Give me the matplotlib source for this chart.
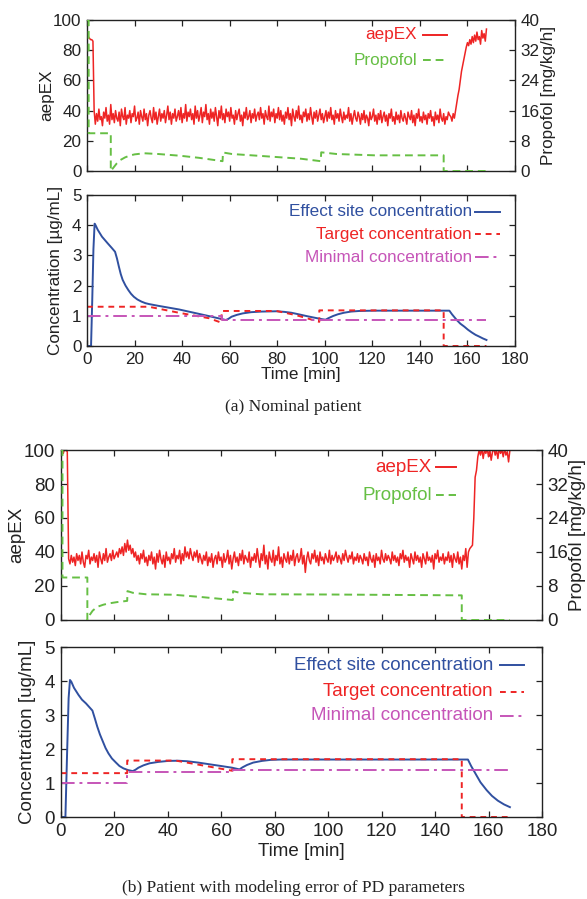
import numpy as np
import matplotlib
matplotlib.use('Agg')
import matplotlib.pyplot as plt

W, H = 587, 899
RED = '#ee2424'
GREEN = '#66bf44'
BLUE = '#3050a0'
MAG = '#c655b8'
INK = '#222222'

plt.rcParams['font.family'] = ['Liberation Sans', 'DejaVu Sans']

# ---------------- data: (a) nominal patient ----------------
t_aep = np.arange(0, 168.5, 0.5)  # sampling times [min]

aep_a = [92, 89, 88, 87, 87, 86,
    40, 31, 38, 33, 41, 34, 36, 30, 39, 35, 42, 33, 37, 31, 44, 34, 38, 32, 40, 35,
    33, 39, 30, 41, 36, 34, 42, 31, 37, 35, 40, 32, 38, 36, 43, 33, 35, 39, 31, 40,
    36, 33, 41, 34, 38, 30, 37, 40, 35, 32, 42, 34, 39, 31, 36, 41, 33, 38, 35, 40,
    32, 37, 43, 34, 39, 31, 38, 35, 41, 33, 36, 40, 34, 42, 32, 38, 35, 44, 33, 39,
    36, 41, 34, 38, 31, 43, 35, 40, 33, 37, 42, 32, 39, 36, 44, 34, 38, 31, 41, 35,
    39, 33, 42, 36, 30, 40, 35, 43, 34, 38, 32, 41, 36, 39, 33, 42, 35, 37, 31, 40,
    34, 38, 41, 33, 37, 30, 39, 35, 42, 34, 36, 40, 32, 38, 35, 41, 33, 37, 39, 34,
    42, 35, 38, 31, 40, 36, 34, 43, 33, 39, 36, 41, 32, 38, 35, 42, 34, 40, 33, 37,
    31, 39, 35, 42, 34, 38, 30, 41, 36, 33, 40, 35, 43, 34, 37, 32, 39, 36, 41, 33,
    38, 34, 42, 36, 31, 39, 35, 40, 33, 37, 41, 34, 38, 32, 36, 40, 33, 39, 35, 42,
    34, 37, 31, 40, 35, 38, 33, 41, 36, 32, 39, 34, 37, 35, 42, 33, 38, 31, 36, 40,
    35, 33, 39, 36, 31, 38, 34, 40, 32, 37, 35, 30, 39, 34, 36, 41, 33, 37, 31, 38,
    34, 40, 32, 36, 39, 33, 37, 30, 38, 35, 41, 33, 36, 31, 39, 34, 37, 32, 40, 35,
    33, 38, 35, 31, 39, 36, 34, 40, 32, 37, 30, 38, 35, 41, 33, 36, 32, 39, 34, 37,
    31, 38, 35, 40, 33, 36, 30, 39, 34, 37, 32, 41, 35, 33, 38, 31, 36, 34, 39, 37,
    36, 33, 38, 35,
    40, 45, 50, 54, 60, 66, 70, 74, 78, 82, 85, 83, 87, 84, 89, 85, 90, 86, 92, 87,
    89, 84, 93, 88, 91, 86, 94]

prop_a_t = [0, 0.7, 0.7, 10, 10, 11, 12.5, 14, 16, 18, 20, 24, 30, 39, 47, 57, 57.2,
            61, 74, 90, 98.3, 98.5, 105, 121, 150, 150, 168]
prop_a_v = [40, 40, 10, 10, 0, 0.8, 2.0, 2.9, 3.6, 4.1, 4.4, 4.7, 4.5, 4.05, 3.5, 2.6,
            4.9, 4.5, 3.95, 3.25, 2.6, 4.95, 4.5, 4.15, 4.15, 0, 0]

eff_a_t = [0, 1.7, 2.2, 2.7, 3.2, 3.6, 4.5, 6.3, 8.7, 10.5, 11.8, 12.6, 13.4, 14.2, 15,
           16.2, 17.4, 18.5, 19.7, 21.2, 22.9, 24.5, 26, 30, 38.7, 51.3, 58.4, 59.5, 60.8,
           63, 65.5, 69, 73.4, 79.7, 83, 86, 89, 92.4, 95.5, 98.7, 100.3, 101.5, 103.4,
           105.5, 108, 111, 114.5, 120.8, 152.4, 153.5, 155.5, 157, 158.7, 160.2, 161.8,
           163.4, 165, 166.5, 168]
eff_a_v = [0, 0, 1.5, 3.2, 4.05, 4.0, 3.85, 3.62, 3.4, 3.24, 3.12, 2.9, 2.63, 2.38, 2.19,
           2.0, 1.85, 1.73, 1.63, 1.54, 1.47, 1.42, 1.39, 1.33, 1.21, 0.99, 0.86, 0.90,
           0.97, 1.03, 1.08, 1.12, 1.14, 1.15, 1.13, 1.10, 1.05, 0.99, 0.94, 0.89, 0.87,
           0.92, 0.99, 1.05, 1.10, 1.14, 1.16, 1.17, 1.17, 1.05, 0.86, 0.74, 0.64, 0.54,
           0.45, 0.37, 0.31, 0.25, 0.20]
tgt_a_t = [0, 26, 38.7, 51.3, 56.6, 56.6, 79.7, 88, 97.7, 97.7, 150, 150, 168]
tgt_a_v = [1.3, 1.3, 1.1, 0.92, 0.77, 1.16, 1.16, 1.02, 0.8, 1.18, 1.18, 0, 0]
min_a_t = [0, 56.8, 56.8, 168]
min_a_v = [1.0, 1.0, 0.86, 0.86]

# ---------------- data: (b) modeling error ----------------
aep_b = [95, 100, 98, 101, 100, 99,
    36, 33, 38, 34, 37, 32, 39, 35, 38, 33, 40, 34, 31, 38, 36, 41, 33, 37, 35, 39,
    34, 38, 31, 40, 36, 33, 39, 35, 42, 34, 37, 39, 35, 41, 36, 38, 40, 37, 42, 39,
    43, 38, 45, 40, 47, 41, 44, 39, 42, 37, 40, 35, 38, 33, 39, 36, 41, 34, 37, 32,
    38, 35, 40, 33, 37, 30, 39, 34, 41, 36, 33, 38, 31, 40, 35, 37, 33, 39, 36, 42,
    34, 38, 36, 41, 33, 39, 35, 43, 37, 40, 36, 42, 38, 35, 40, 37, 41, 34, 39, 36,
    33, 38, 35, 40, 32, 37, 34, 39, 31, 36, 38, 33, 40, 35, 37, 31, 39, 34, 36, 41,
    33, 38, 30, 36, 40, 34, 37, 32, 39, 35, 41, 33, 38, 36, 34, 40, 31, 37, 35, 39,
    34, 42, 36, 31, 39, 35, 44, 33, 38, 30, 40, 36, 34, 41, 32, 38, 35, 43, 33, 37,
    31, 39, 36, 34, 40, 33, 38, 35, 41, 32, 37, 39, 34, 36, 42, 33, 38, 28, 36, 40,
    35, 33, 39, 36, 41, 34, 38, 32, 40, 35, 37, 33, 39, 36, 34, 41, 33, 38, 35, 37,
    40, 34, 38, 36, 33, 39, 35, 41, 37, 34, 38, 36, 40, 33, 37, 35, 39, 34, 38, 36,
    33, 39, 35, 37, 32, 40, 36, 34, 38, 31, 39, 35, 37, 33, 41, 36, 34, 39, 35, 38,
    36, 33, 40, 35, 38, 34, 37, 32, 39, 36, 41, 34, 38, 35, 37, 31, 39, 36, 33, 40,
    35, 38, 34, 37, 31, 39, 36, 33, 40, 35, 37, 34, 38, 30, 39, 36, 41, 34, 37, 35,
    39, 33, 37, 35, 40, 34, 38, 31, 39, 36, 34, 40, 33, 37, 30, 38, 35, 42, 31, 40,
    42, 43, 44, 60, 84, 88, 96, 100,
    97, 101, 95, 100, 98, 101, 96, 100, 94, 99, 101, 97, 100, 95, 101, 98, 100, 96,
    101, 97, 99, 93, 100]

prop_b_t = [0, 0.7, 0.7, 10, 10, 11, 12, 13.7, 16, 18, 21, 24.9, 25, 27, 32, 42, 51,
            64.4, 64.5, 67, 75, 100, 150, 150, 168]
prop_b_v = [40, 40, 10, 10, 0, 1.3, 2.2, 3.1, 3.6, 3.9, 4.2, 4.5, 6.8, 6.4, 6.05, 5.95,
            5.5, 4.7, 6.8, 6.4, 6.05, 6.0, 5.8, 0, 0]

eff_b_t = [0, 1.8, 2.4, 3.0, 3.5, 4.0, 5, 6.7, 8, 9.5, 11.9, 12.8, 13.7, 14.7, 15.8,
           16.8, 17.9, 19.2, 20.7, 22, 23.5, 25.2, 27, 28, 29.1, 31, 33.3, 36.5, 40.3,
           44, 47.3, 51.5, 55.7, 60, 64.1, 66.9, 68, 69.7, 72, 75.3, 78.5, 82.3, 152.3,
           153.5, 155.1, 157, 159.3, 161.3, 163.5, 165.8, 168]
eff_b_v = [0, 0, 1.8, 3.5, 4.03, 3.98, 3.8, 3.59, 3.45, 3.34, 3.13, 2.9, 2.66, 2.43,
           2.22, 2.03, 1.87, 1.72, 1.6, 1.5, 1.43, 1.38, 1.35, 1.39, 1.45, 1.52, 1.58,
           1.62, 1.65, 1.655, 1.64, 1.6, 1.55, 1.50, 1.45, 1.40, 1.46, 1.53, 1.6, 1.65,
           1.68, 1.69, 1.69, 1.5, 1.28, 1.02, 0.79, 0.62, 0.48, 0.37, 0.29]
tgt_b_t = [0, 24.9, 24.9, 43, 64.2, 64.2, 150, 150, 168]
tgt_b_v = [1.29, 1.29, 1.66, 1.66, 1.36, 1.70, 1.70, 0, 0]
min_b_t = [0, 25, 25, 64.4, 64.4, 168]
min_b_v = [1.0, 1.0, 1.33, 1.33, 1.39, 1.39]

x_ticks = [0, 20, 40, 60, 80, 100, 120, 140, 160, 180]
aep_ticks = [0, 20, 40, 60, 80, 100]
prop_ticks = [0, 8, 16, 24, 32, 40]
conc_ticks = [0, 1, 2, 3, 4, 5]

fig = plt.figure(figsize=(W / 100, H / 100), dpi=100)


def add_ax(left, right, top, bottom):
    return fig.add_axes([left / W, 1 - bottom / H, (right - left) / W, (bottom - top) / H])


def style(ax, fs, xlabels=True):
    for s in ax.spines.values():
        s.set_color(INK)
        s.set_linewidth(1.0)
    ax.tick_params(direction='in', length=4.5, width=0.9, colors=INK, labelsize=fs,
                   top=True, right=True, pad=4)
    if not xlabels:
        ax.tick_params(labelbottom=False)


def legend_rows(rows, x_text, x1, x2, fs):
    for (y, label, color, ls) in rows:
        fig.text(x_text / W, 1 - y / H, label, color=color, fontsize=fs, ha='right',
                 va='center')
        fig.add_artist(plt.Line2D([x1 / W, x2 / W], [1 - y / H, 1 - y / H], color=color,
                                  lw=1.4, linestyle=ls))


def top_panel(box, aep, prop_t, prop_v, fs, ylab_x, rlab_x, leg):
    ax = add_ax(*box)
    ax.plot(t_aep, aep, color=RED, lw=1.1)
    ax.set_xlim(0, 180)
    ax.set_ylim(0, 100)
    ax.set_xticks(x_ticks)
    ax.set_yticks(aep_ticks)
    style(ax, fs, xlabels=False)
    ax.tick_params(right=False)
    ax2 = ax.twinx()
    ax2.plot(prop_t, prop_v, color=GREEN, lw=1.4, linestyle=(0, (4, 2.5)))
    ax2.set_ylim(0, 40)
    ax2.set_yticks(prop_ticks)
    for s in ax2.spines.values():
        s.set_visible(False)
    ax2.tick_params(direction='in', length=4.5, width=0.9, colors=INK, labelsize=fs, pad=4)
    left, right, top, bottom = box
    yc = 1 - (top + bottom) / 2 / H
    fig.text(ylab_x / W, yc, 'aepEX', rotation=90, ha='center', va='center', fontsize=fs,
             color=INK)
    fig.text(rlab_x / W, yc, 'Propofol [mg/kg/h]', rotation=90, ha='center', va='center',
             fontsize=fs, color=INK)
    legend_rows([(leg[0], 'aepEX', RED, '-'), (leg[1], 'Propofol', GREEN, (0, (4, 2.5)))],
                leg[2], leg[3], leg[4], fs)
    return ax


def conc_panel(box, et, ev, tt, tv, mt, mv, fs, ylab, ylab_x, time_y, leg):
    ax = add_ax(*box)
    ax.plot(et, ev, color=BLUE, lw=1.4)
    ax.plot(tt, tv, color=RED, lw=1.4, linestyle=(0, (3, 2.5)))
    ax.plot(mt, mv, color=MAG, lw=1.4, linestyle=(0, (7, 2.5, 1.5, 2.5)))
    ax.set_xlim(0, 180)
    ax.set_ylim(0, 5)
    ax.set_xticks(x_ticks)
    ax.set_yticks(conc_ticks)
    style(ax, fs)
    left, right, top, bottom = box
    yc = 1 - (top + bottom) / 2 / H
    fig.text(ylab_x / W, yc, ylab, rotation=90, ha='center', va='center', fontsize=fs,
             color=INK)
    fig.text((left + right) / 2 / W, 1 - time_y / H, 'Time [min]', ha='center',
             va='center', fontsize=fs, color=INK)
    legend_rows([(leg[0], 'Effect site concentration', BLUE, '-'),
                 (leg[1], 'Target concentration', RED, (0, (3, 2.5))),
                 (leg[2], 'Minimal concentration', MAG, (0, (7, 2.5, 1.5, 2.5)))],
                leg[3], leg[4], leg[5], fs)
    return ax


FS_A = 12.3
FS_B = 13.5

top_panel((87, 515, 20, 171), aep_a, prop_a_t, prop_a_v, FS_A, 47, 548,
          (35, 60, 417, 423, 447))
conc_panel((87, 515, 195, 346), eff_a_t, eff_a_v, tgt_a_t, tgt_a_v, min_a_t, min_a_v,
           FS_A, 'Concentration [\u00b5g/mL]', 56, 374, (212, 234, 257, 472, 475, 500))

top_panel((60.6, 542, 450, 620), aep_b, prop_b_t, prop_b_v, FS_B, 17, 578,
          (467, 495, 432, 436, 456))
conc_panel((60.6, 542, 647, 817), eff_b_t, eff_b_v, tgt_b_t, tgt_b_v, min_b_t, min_b_v,
           FS_B, 'Concentration [ug/mL]', 28, 852, (665, 692, 716, 493, 500, 524))

fig.text(0.5, 1 - 407 / H, '(a) Nominal patient', ha='center', va='center', fontsize=12.5,
         family='Liberation Serif', color=INK)
fig.text(0.5, 1 - 888 / H, '(b) Patient with modeling error of PD parameters', ha='center',
         va='center', fontsize=12.5, family='Liberation Serif', color=INK)

fig.savefig('out.png', dpi=100)
